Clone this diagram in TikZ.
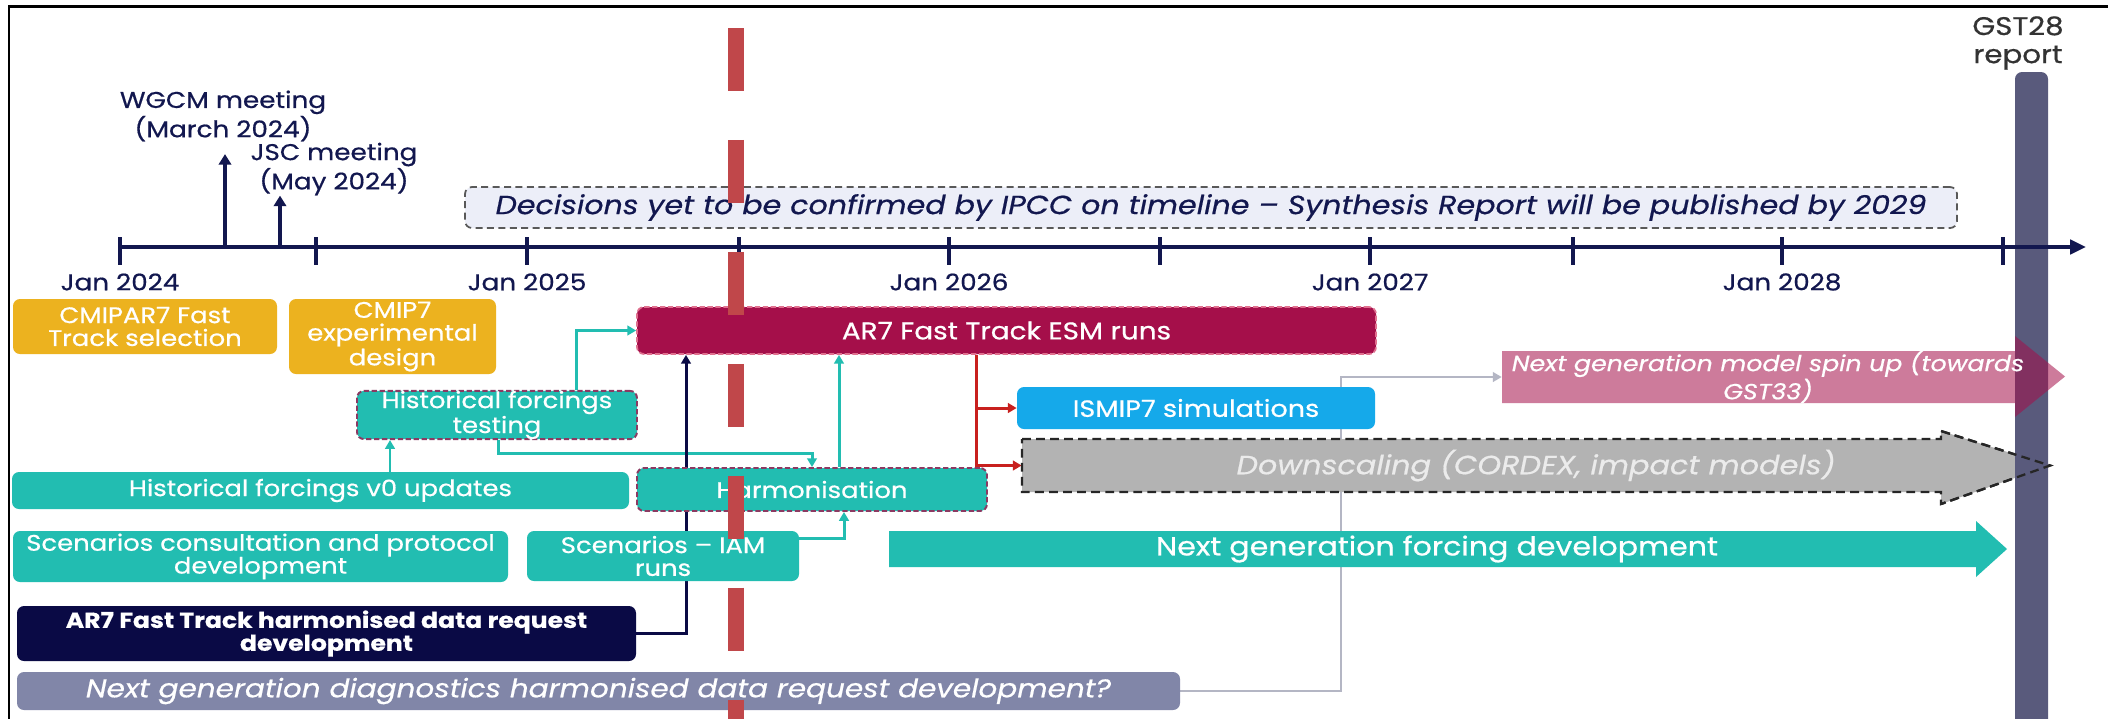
\documentclass[tikz,border=0pt]{standalone}
\usepackage{fontspec}
\setmainfont{Poppins}[FakeStretch=1.15, FakeBold=0.6]
\usetikzlibrary{arrows.meta,calc}
\pgfdeclarelayer{background}
\pgfsetlayers{background,main}

\definecolor{navy}{HTML}{12174F}
\definecolor{darknavy}{HTML}{0A0A45}
\definecolor{tealc}{HTML}{22BDB1}
\definecolor{orangec}{HTML}{ECB21F}
\definecolor{crimson}{HTML}{A50F4A}
\definecolor{skyc}{HTML}{15A9EA}
\definecolor{greyc}{HTML}{B3B3B3}
\definecolor{lavender}{HTML}{8186A8}
\definecolor{barc}{HTML}{595A7C}
\definecolor{cutc}{HTML}{C0474A}
\definecolor{redc}{HTML}{C8201E}
\definecolor{decfill}{HTML}{ECEEF8}
\definecolor{magdash}{HTML}{8B3A62}
\definecolor{pinkdash}{HTML}{E0708F}
\definecolor{linkgrey}{HTML}{B4B6C4}

\newcommand\lblfont{\fontsize{13}{13}\selectfont}
\newcommand\bxfont{\fontsize{12.8}{13}\selectfont}

\tikzset{
    sz/.style 2 args={minimum width=#1*0.02cm, minimum height=#2*0.02cm},
    lbl/.style={text=navy, align=center, inner sep=0pt, font=\lblfont},
    box/.style={rounded corners=4pt, inner sep=0pt, align=center, text=white, font=\bxfont},
    tealbox/.style={box, fill=tealc},
    testbox/.style={box, fill=tealc, draw=magdash, line width=1.1pt, dash pattern=on 3pt off 1.5pt},
    link/.style={line width=1.7pt, -{Triangle[length=5pt,width=5.5pt]}},
    tealarrow/.style={link, draw=tealc},
    navyarrow/.style={link, draw=darknavy},
    redarrow/.style={link, draw=redc},
    greyarrow/.style={link, line width=1.1pt, draw=linkgrey},
    meetarrow/.style={line width=2.2pt, draw=navy, -{Triangle[length=6pt,width=7pt]}},
    dashedge/.style={draw=black!85, line width=1.3pt, dash pattern=on 5pt off 3pt},
}

\begin{document}
\begin{tikzpicture}[x=0.02cm, y=-0.02cm]
    \useasboundingbox (0,0) rectangle (2108,718);
    \begin{pgfonlayer}{background}
        \fill[white] (0,0) rectangle (2108,718);
    \end{pgfonlayer}
    \draw[line width=1.7pt] (9,730) -- (9,6) -- (2120,6);

    \filldraw[fill=greyc, dashedge] (1022,439) -- (1941,439) -- (1941,431) -- (2050,465.5)
        -- (1941,504) -- (1941,492) -- (1022,492) -- cycle;
    \fill[barc, rounded corners=4pt] (2015,72) rectangle (2048,760);
    \draw[dashedge] (1941,431) -- (2050,465.5) -- (1941,504);
    \fill[crimson, fill opacity=0.55] (1502,351) -- (2015,351) -- (2015,336) -- (2065,376.5)
        -- (2015,417) -- (2015,403) -- (1502,403) -- cycle;
    \fill[tealc] (889,531) -- (1976,531) -- (1976,521) -- (2007,549) -- (1976,577)
        -- (1976,567) -- (889,567) -- cycle;

    \node[lbl, text=black!80, font=\fontsize{14.5}{16}\selectfont] (gst) at (2018,43) {GST28\\report};

    \draw[line width=2.2pt, draw=navy, -{Triangle[length=9pt,width=8pt]}] (120,247) -- (2086,247);
    \foreach \x in {120,316,527,739,949,1160,1370,1573,1782,2003}
        \draw[line width=2.2pt, navy] (\x,237) -- (\x,265);
    \foreach \x/\yr in {120/2024,527/2025,949/2026,1370/2027,1782/2028}
        \node[lbl] (jan\yr) at (\x,282) {Jan \yr};

    \coordinate (mar) at (225,247);
    \coordinate (may) at (280,247);
    \node[lbl, inner ysep=7pt] (wgcm) at (223,116) {WGCM meeting\\(March 2024)};
    \node[lbl, inner ysep=0pt] (jsc) at (334,169) {JSC meeting\\(May 2024)};
    \draw[meetarrow] (mar) -- (mar |- jsc.south) -- (mar |- wgcm.south);
    \draw[meetarrow] (may) -- (may |- jsc.south);

    \node[rounded corners=4pt, fill=decfill, draw=black!65, line width=1pt, dash pattern=on 4pt off 2.5pt,
        sz={1492}{41}, inner sep=0pt, text=navy, font=\fontsize{14.9}{16}\selectfont\itshape]
        (decide) at (1211,207.5) {Decisions yet to be confirmed by IPCC on timeline -- Synthesis Report will be published by 2029};

    \node[box, fill=orangec, sz={264}{55}] (select) at (145,326.5) {CMIPAR7 Fast\\Track selection};
    \node[box, fill=orangec, sz={207}{75}] (design) at (392.5,336.5) {CMIP7\\experimental\\design};
    \node[testbox, sz={280}{44}] (testing) at (497,415) {Historical forcings\\testing};
    \node[tealbox, sz={617}{37}] (vzero) at (320.5,490.5) {Historical forcings v0 updates};
    \node[tealbox, sz={495}{51}] (consult) at (260.5,556.5) {Scenarios consultation and protocol\\development};
    \node[tealbox, sz={272}{50}] (iam) at (663,556) {Scenarios -- IAM\\runs};
    \node[box, fill=darknavy, sz={619}{55}, font=\fontsize{12.4}{13}\selectfont\bfseries] (request) at (326.5,633.5) {AR7 Fast Track harmonised data request\\development};
    \node[box, fill=lavender, sz={1163}{38}, font=\fontsize{14.6}{16}\selectfont\itshape] (diag) at (598.5,691) {Next generation diagnostics harmonised data request development?};
    \node[testbox, sz={350}{43}] (harm) at (812,489.5) {Harmonisation};
    \node[box, fill=crimson, draw=pinkdash, line width=1pt, dash pattern=on 3pt off 1.5pt,
        sz={739}{47}, font=\fontsize{13.8}{15}\selectfont] (esm) at (1006.5,330.5) {AR7 Fast Track ESM runs};
    \node[box, fill=skyc, sz={358}{42}, font=\fontsize{13.4}{15}\selectfont] (ismip) at (1196,408) {ISMIP7 simulations};
    \node[inner sep=0pt, sz={1028}{53}, text=white!92!black, font=\fontsize{15}{17}\selectfont\itshape]
        (down) at (1536,465.5) {Downscaling (CORDEX, impact models)};
    \node[inner sep=0pt, sz={1096}{36}, text=white, font=\fontsize{14.9}{17}\selectfont]
        (forcing) at (1437,549) {Next generation forcing development};
    \node[inner sep=0pt, sz={532}{52}, align=center, text=white, font=\fontsize{12.5}{13.7}\selectfont\itshape]
        (spin) at (1768,377) {Next generation model spin up (towards\\GST33)};

    \begin{pgfonlayer}{background}
        \draw[tealarrow] (vzero.north -| 390,0) -- (testing.south -| 390,0);
        \draw[tealarrow] (testing.north -| 576,0) |- (esm.west);
        \draw[tealarrow] (testing.south -| 498,0) -- (498,453) -| (harm.north);
        \draw[tealarrow] (harm.north -| 839,0) -- (esm.south -| 839,0);
        \draw[tealarrow] (iam.east |- 0,538) -| (harm.south -| 844,0);
        \draw[navyarrow] (request.east) -| (esm.south -| 686,0);
        \draw[redarrow] (esm.south -| 976,0) |- (ismip.west);
        \draw[redarrow] (esm.south -| 976,0) |- (down.west);
        \draw[greyarrow] (diag.east) -| (1341,377) -- (spin.west);
    \end{pgfonlayer}

    \draw[cutc, line width=9.1pt, dash pattern=on 35.8pt off 27.9pt] (736,28) -- (736,760);
\end{tikzpicture}
\end{document}
